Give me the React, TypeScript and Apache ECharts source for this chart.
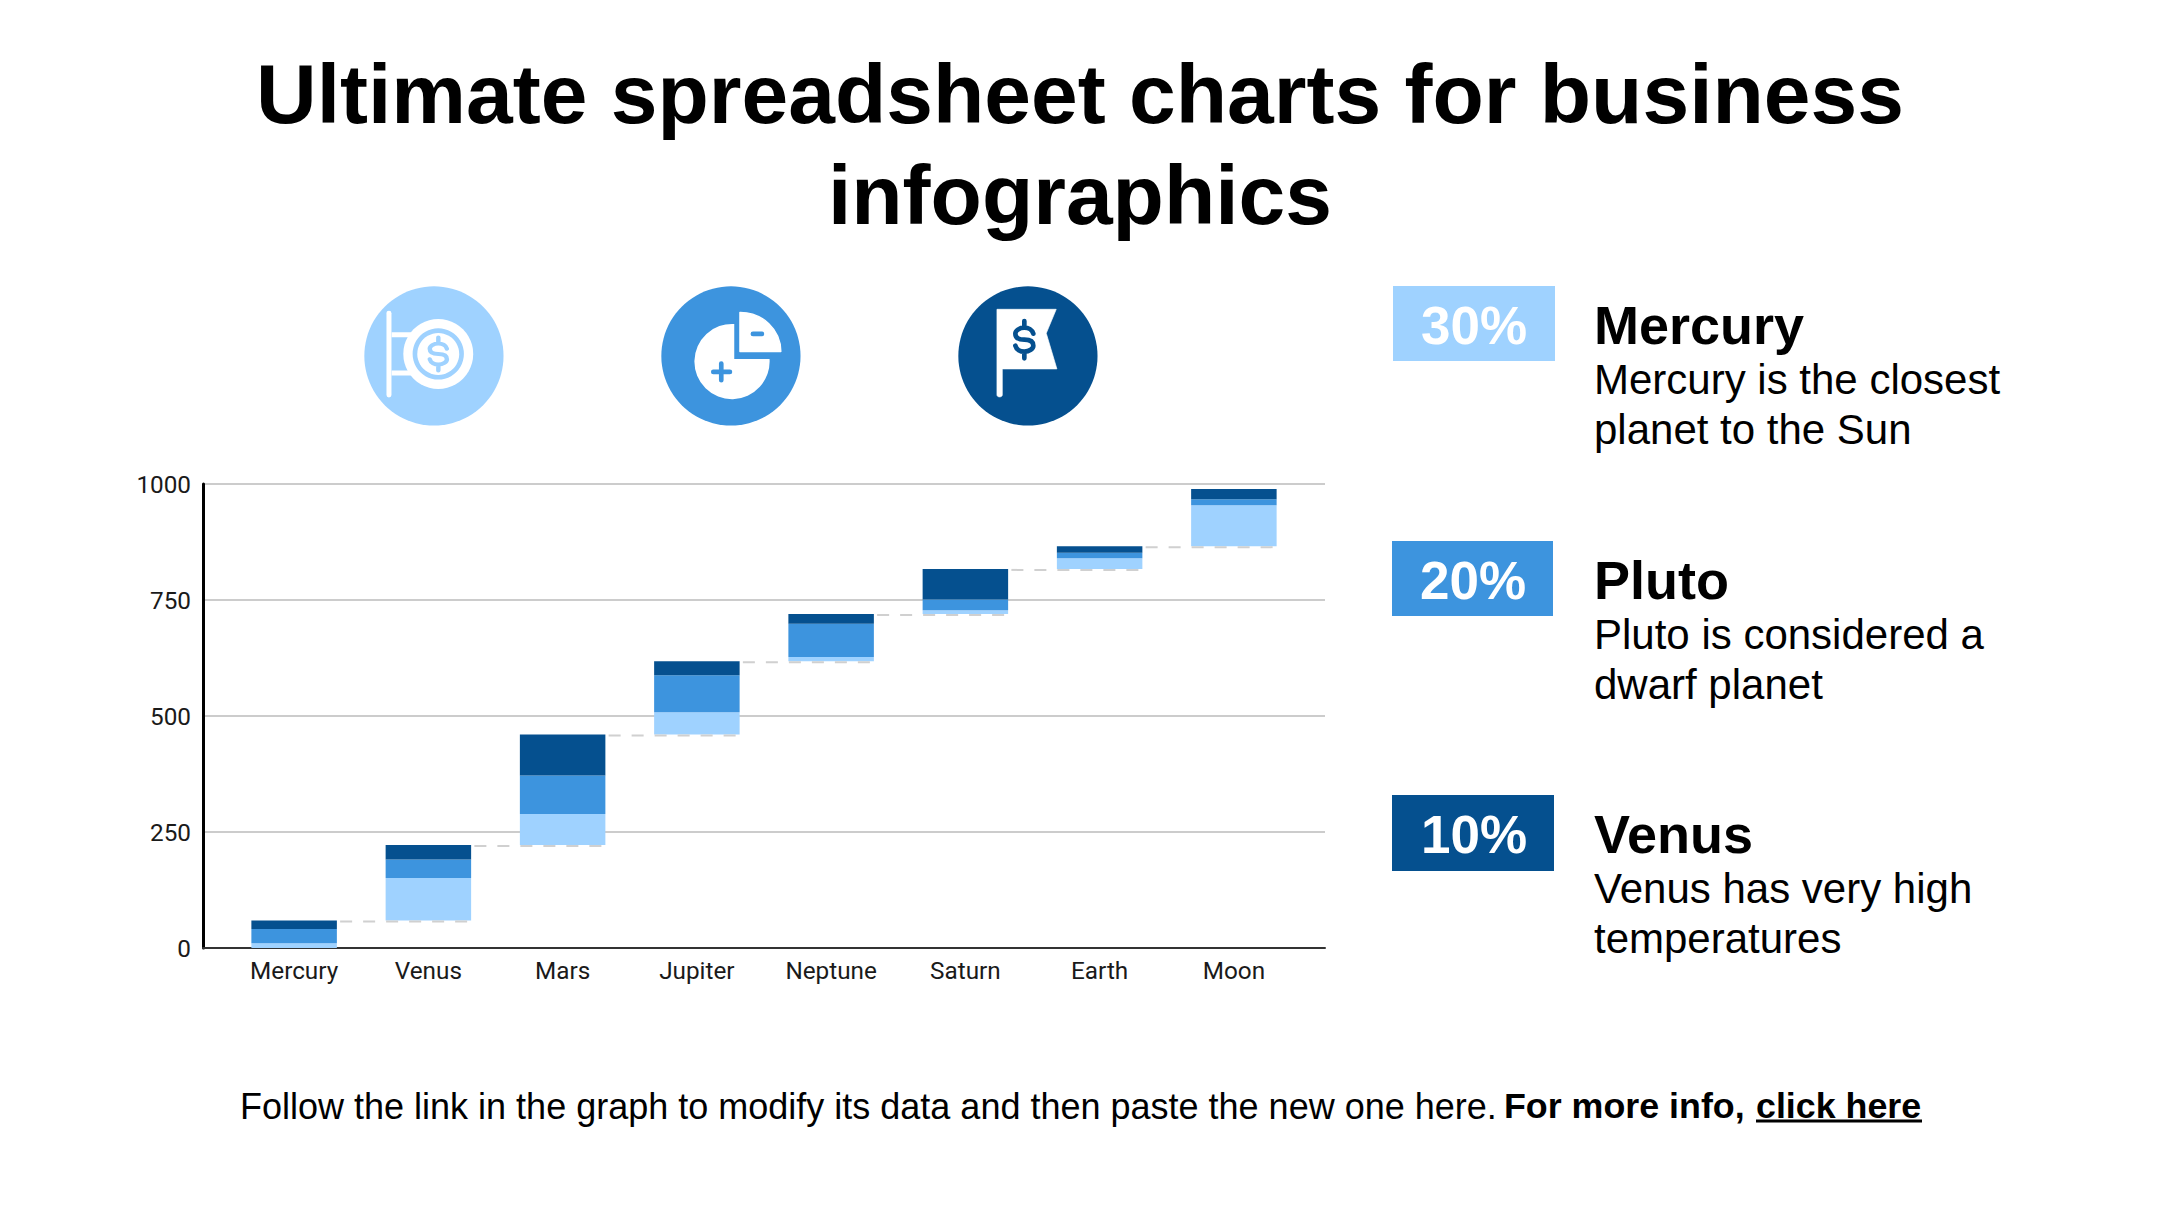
import React, { useEffect, useRef } from "react";
import * as echarts from "echarts";

const titleLines = ["Ultimate spreadsheet charts for business", "infographics"];
const categories = ["Mercury", "Venus", "Mars", "Jupiter", "Neptune", "Saturn", "Earth", "Moon"];
const baseValues = [0, 59, 222, 460, 618, 720, 817, 866];
const lightValues = [10, 92, 67, 48, 9, 8, 23, 88];
const midValues = [31, 40, 83, 80, 72, 23, 12, 13];
const darkValues = [18, 31, 88, 30, 21, 66, 14, 22];
const connectorLevels = [59, 222, 460, 618, 720, 817, 866];
const percentLabels = ["30%", "20%", "10%"];
const headings = ["Mercury", "Pluto", "Venus"];
const descriptions = [
  ["Mercury is the closest", "planet to the Sun"],
  ["Pluto is considered a", "dwarf planet"],
  ["Venus has very high", "temperatures"],
];
const footerRegular = "Follow the link in the graph to modify its data and then paste the new one here.";
const footerBold = "For more info,";
const footerLink = "click here";

const LIGHT = "#9FD2FF";
const MID = "#3D94DE";
const DARK = "#05508F";

const DOLLAR =
  "M27,-18 C24,-30 12,-36 0,-36 C-15,-36 -27,-27 -27,-18 C-27,-3 -12,0 0,0 C12,0 27,3 27,18 C27,27 15,36 0,36 C-12,36 -24,30 -27,18 M0,-56 L0,-36 M0,36 L0,56";
const SIGN_POST = "M87,100 L87,345";
const SIGN_ARMS =
  "M95,157 L165,157 L165,172 L95,172 Z M95,272 L165,272 L165,287 L95,287 Z";
const PIE_BIG = "M235,132 L235,237 L341,237 A113,113 0 1 1 235,132 Z";
const PIE_SMALL = "M252,97 A122,118 0 0 1 375,215 L252,215 Z";
const PIE_SIGNS = "M291,162 L318,162 M172,276 L222,276 M196,251 L196,301";
const FLAG =
  "M132,88 L310,88 L280,160 L312,267 L148,267 L148,345 C148,353 132,353 132,345 Z";

echarts.graphic.registerShape("dollarSign", echarts.graphic.extendPath(DOLLAR, {}));
echarts.graphic.registerShape("signPost", echarts.graphic.extendPath(SIGN_POST, {}));
echarts.graphic.registerShape("signArms", echarts.graphic.extendPath(SIGN_ARMS, {}));
echarts.graphic.registerShape("pieBig", echarts.graphic.extendPath(PIE_BIG, {}));
echarts.graphic.registerShape("pieSmall", echarts.graphic.extendPath(PIE_SMALL, {}));
echarts.graphic.registerShape("pieSigns", echarts.graphic.extendPath(PIE_SIGNS, {}));
echarts.graphic.registerShape("flagShape", echarts.graphic.extendPath(FLAG, {}));

const SANS = "'Liberation Sans', Arial, sans-serif";

function label(text: string, x: number, y: number, font: string, fill = "#000", align = "left") {
  return {
    type: "text",
    silent: true,
    style: { text, x, y, font, fill, textAlign: align, align, textVerticalAlign: "middle", verticalAlign: "middle" },
  };
}

function icon(ox: number, oy: number, children: any[]) {
  return { type: "group", x: ox, y: oy, scaleX: 1 / 3, scaleY: 1 / 3, silent: true, children };
}

function buildGraphics() {
  const g: any[] = [];
  g.push(label(titleLines[0], 1080, 93.5, `bold 84px ${SANS}`, "#000", "center"));
  g.push(label(titleLines[1], 1080, 195, `bold 84px ${SANS}`, "#000", "center"));

  const circle = (cx: number, cy: number, r: number, fill: string) => ({ type: "circle", shape: { cx, cy, r }, style: { fill } });

  g.push(
    icon(360, 280, [
      circle(222, 228, 209, LIGHT),
      { type: "signPost", style: { fill: "none", stroke: "#fff", lineWidth: 15, lineCap: "round" } },
      { type: "signArms", style: { fill: "#fff" } },
      circle(235, 222, 105, "#fff"),
      circle(235, 222, 77, LIGHT),
      circle(235, 222, 63, "#fff"),
      { type: "dollarSign", x: 235, y: 222, scaleX: 0.95, scaleY: 0.88, style: { fill: "none", stroke: LIGHT, lineWidth: 14, lineCap: "round" } },
    ])
  );
  g.push(
    icon(656, 280, [
      circle(225, 228, 209, MID),
      { type: "pieBig", style: { fill: "#fff" } },
      { type: "pieSmall", style: { fill: "#fff", stroke: "#fff", lineWidth: 4, lineJoin: "round" } },
      { type: "pieSigns", style: { fill: "none", stroke: MID, lineWidth: 14, lineCap: "round" } },
    ])
  );
  g.push(
    icon(953, 280, [
      circle(225, 228, 209, DARK),
      { type: "flagShape", style: { fill: "#fff", stroke: "#fff", lineWidth: 2, lineJoin: "round" } },
      { type: "dollarSign", x: 214, y: 179, style: { fill: "none", stroke: DARK, lineWidth: 14, lineCap: "round" } },
    ])
  );

  const boxes = [
    { x: 1393, y: 286, w: 162, h: 75, c: LIGHT, tx: 1474, hx: 1594 },
    { x: 1392, y: 541, w: 161, h: 75, c: MID, tx: 1473, hx: 1594 },
    { x: 1392, y: 795, w: 162, h: 76, c: DARK, tx: 1474, hx: 1594 },
  ];
  boxes.forEach((b, i) => {
    g.push({ type: "rect", silent: true, shape: { x: b.x, y: b.y, width: b.w, height: b.h }, style: { fill: b.c } });
    g.push(label(percentLabels[i], b.tx, b.y + 39, `bold 53px ${SANS}`, "#fff", "center"));
    g.push(label(headings[i], b.hx, b.y + 39, `bold 54px ${SANS}`));
    g.push(label(descriptions[i][0], b.hx, b.y + 93, `42px ${SANS}`));
    g.push(label(descriptions[i][1], b.hx, b.y + 143, `42px ${SANS}`));
  });

  g.push(label(footerRegular, 240, 1106, `36px ${SANS}`));
  g.push(label(footerBold, 1504, 1106, `bold 35.8px ${SANS}`));
  g.push(label(footerLink, 1756, 1106, `bold 35.8px ${SANS}`));
  g.push({ type: "line", silent: true, shape: { x1: 1756, y1: 1121, x2: 1922, y2: 1121 }, style: { stroke: "#000", lineWidth: 3 } });
  return g;
}

export default function App() {
  const ref = useRef<HTMLDivElement>(null);
  useEffect(() => {
    const chart = echarts.init(ref.current!, undefined, { renderer: "svg" });
    const barSeries = (name: string, data: number[], color: string) => ({
      name,
      type: "bar",
      stack: "total",
      xAxisIndex: 1,
      yAxisIndex: 1,
      barWidth: 85.5,
      data,
      z: 2,
      itemStyle: { color },
    });
    chart.setOption({
      animation: false,
      backgroundColor: "#fff",
      grid: [
        { left: 203, width: 1122, top: 484, height: 464 },
        { left: 227, width: 1074, top: 484, height: 464 },
      ],
      xAxis: [
        {
          type: "value",
          gridIndex: 0,
          min: 0,
          max: 1,
          axisLabel: { show: false },
          axisTick: { show: false },
          splitLine: { show: false },
          axisLine: { show: true, onZero: false, lineStyle: { color: "#333", width: 2 } },
        },
        {
          type: "category",
          gridIndex: 1,
          data: categories,
          axisTick: { show: false },
          axisLine: { show: false },
          axisLabel: { color: "#1a1a1a", fontFamily: "Roboto", fontSize: 24.3, margin: 10, interval: 0 },
        },
      ],
      yAxis: [
        {
          type: "value",
          gridIndex: 0,
          min: 0,
          max: 1000,
          interval: 250,
          axisTick: { show: false },
          axisLine: { show: true, lineStyle: { color: "#000", width: 3 } },
          axisLabel: { color: "#1a1a1a", fontFamily: "Roboto", fontSize: 24.3, margin: 12, formatter: (v: number) => String(v) },
          splitLine: { show: true, lineStyle: { color: "#ccc", width: 2 } },
        },
        {
          type: "value",
          gridIndex: 1,
          min: 0,
          max: 1000,
          show: false,
          splitLine: { show: false },
        },
      ],
      series: [
        barSeries("Base", baseValues, "rgba(0,0,0,0)"),
        barSeries("Series A", lightValues, LIGHT),
        barSeries("Series B", midValues, MID),
        barSeries("Series C", darkValues, DARK),
        {
          type: "custom",
          xAxisIndex: 1,
          yAxisIndex: 1,
          z: 5,
          silent: true,
          data: connectorLevels.map((v, i) => [i, v]),
          renderItem: (_params: any, api: any) => {
            const i = api.value(0);
            const level = api.value(1);
            const a = api.coord([i, level]);
            const b = api.coord([i + 1, level]);
            return {
              type: "line",
              shape: { x1: a[0] + 46, y1: a[1] + 1, x2: b[0] + 43, y2: b[1] + 1 },
              style: { stroke: "#d0d0d0", lineWidth: 2, lineDash: [12, 11], fill: "none" },
            };
          },
        },
      ],
      graphic: { elements: buildGraphics() },
    });
    return () => chart.dispose();
  }, []);
  return <div ref={ref} style={{ position: "fixed", left: 0, top: 0, width: 2160, height: 1215 }} />;
}
